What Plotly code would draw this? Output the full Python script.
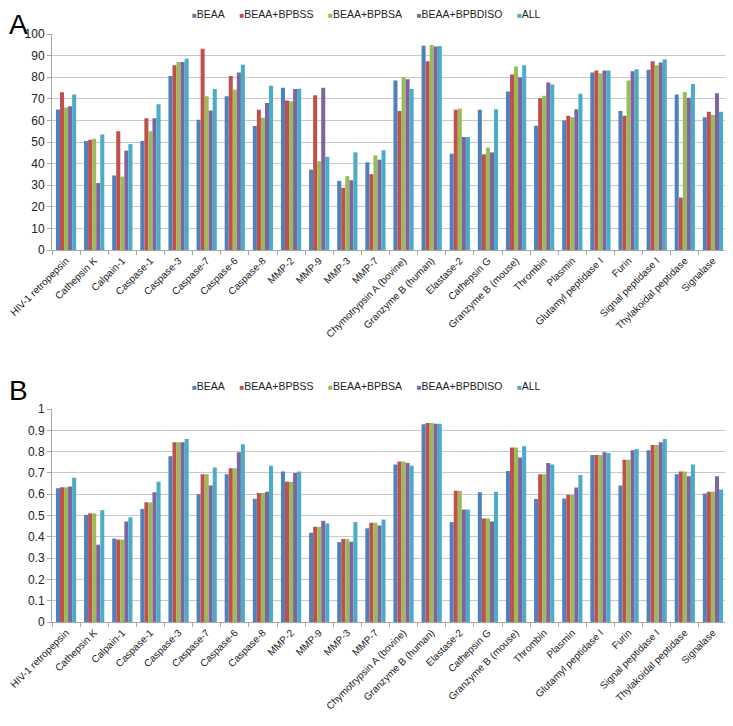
import plotly.graph_objects as go

categories = [
    "HIV-1 retropepsin", "Cathepsin K", "Calpain-1", "Caspase-1", "Caspase-3",
    "Caspase-7", "Caspase-6", "Caspase-8", "MMP-2", "MMP-9", "MMP-3", "MMP-7",
    "Chymotrypsin A (bovine)", "Granzyme B (human)", "Elastase-2", "Cathepsin G",
    "Granzyme B (mouse)", "Thrombin", "Plasmin", "Glutamyl peptidase I", "Furin",
    "Signal peptidase I", "Thylakoidal peptidase", "Signalase",
]
series_names = ["BEAA", "BEAA+BPBSS", "BEAA+BPBSA", "BEAA+BPBDISO", "ALL"]
colors = ["#4F81BD", "#C0504D", "#9BBB59", "#8064A2", "#4BACC6"]

# panel A: accuracy (%)
acc_beaa = [65, 50.5, 34.5, 50.5, 80.5, 60.3, 71.2, 57.4, 75.1, 37.2, 32, 40.6,
            78.5, 94.6, 44.6, 64.9, 73.4, 57.5, 60, 82.2, 64.3, 83.4, 72, 61.5]
acc_bpbss = [73, 51, 55, 61, 85.5, 93.2, 80.6, 64.9, 69.2, 71.7, 28.8, 35.1,
             64.3, 87.4, 64.9, 44.3, 81.2, 70.2, 62.2, 83.1, 62.2, 87.4, 24.3, 64]
acc_bpbsa = [66, 51.5, 34, 55, 87, 71.2, 74.2, 61.2, 68.9, 41.1, 34.2, 43.8,
             80, 94.9, 65.5, 47.4, 84.9, 71.4, 61.5, 81.8, 78.5, 85.5, 73.2, 62.5]
acc_bpbdiso = [66.5, 31, 46, 61, 87, 64.6, 82.2, 68, 74.5, 75.1, 32.3, 41.8,
               79.1, 94.2, 52.3, 45.2, 80, 77.5, 65.2, 83.1, 82.8, 86.8, 70.5, 72.6]
acc_all = [72, 53.5, 49, 67.5, 88.5, 74.5, 85.8, 76, 74.6, 43.1, 45.2, 46.2,
           74.5, 94.5, 52.3, 65.2, 85.5, 76.6, 72.3, 83.1, 83.7, 88.3, 76.9, 64]

# panel B: score (0-1)
sc_beaa = [0.628, 0.503, 0.392, 0.531, 0.778, 0.6, 0.694, 0.578, 0.706, 0.419, 0.375, 0.44,
           0.74, 0.928, 0.469, 0.609, 0.709, 0.578, 0.58, 0.784, 0.641, 0.806, 0.694, 0.603]
sc_bpbss = [0.633, 0.51, 0.387, 0.562, 0.844, 0.694, 0.722, 0.606, 0.659, 0.447, 0.39, 0.466,
            0.753, 0.934, 0.616, 0.486, 0.819, 0.694, 0.597, 0.784, 0.762, 0.831, 0.706, 0.612]
sc_bpbsa = [0.633, 0.51, 0.387, 0.562, 0.844, 0.694, 0.722, 0.606, 0.659, 0.447, 0.39, 0.466,
            0.753, 0.934, 0.616, 0.486, 0.819, 0.694, 0.597, 0.784, 0.762, 0.831, 0.706, 0.612]
sc_bpbdiso = [0.636, 0.363, 0.472, 0.609, 0.844, 0.641, 0.797, 0.612, 0.7, 0.475, 0.377, 0.453,
              0.747, 0.931, 0.528, 0.472, 0.772, 0.747, 0.631, 0.797, 0.806, 0.844, 0.684, 0.684]
sc_all = [0.677, 0.525, 0.492, 0.659, 0.859, 0.725, 0.834, 0.734, 0.706, 0.463, 0.469, 0.481,
          0.734, 0.931, 0.528, 0.612, 0.825, 0.74, 0.69, 0.794, 0.812, 0.859, 0.74, 0.622]

acc_series = [acc_beaa, acc_bpbss, acc_bpbsa, acc_bpbdiso, acc_all]
sc_series = [sc_beaa, sc_bpbss, sc_bpbsa, sc_bpbdiso, sc_all]

fig = go.Figure()
for name, col, vals in zip(series_names, colors, acc_series):
    fig.add_trace(go.Bar(x=categories, y=vals, name=name, marker_color=col,
                         marker_line_width=0, xaxis="x", yaxis="y", showlegend=False))
for name, col, vals in zip(series_names, colors, sc_series):
    fig.add_trace(go.Bar(x=categories, y=vals, name=name, marker_color=col,
                         marker_line_width=0, xaxis="x2", yaxis="y2", showlegend=False))

# the page body adds an 8px margin, so work in (reference px - 8)
W, H = 725.0, 718.0
OFF = 8
FONT = "Liberation Sans, Arial, sans-serif"
xdom = [(52 - OFF) / W, (727 - OFF) / W]
grid = "#C8C8C8"
xcommon = dict(type="category", tickangle=-45, automargin=False,
               tickfont=dict(family=FONT, size=10, color="#222"), showgrid=False,
               showline=True, linecolor="#A6A6A6", ticks="outside", tickson="boundaries",
               ticklen=4, tickcolor="#A6A6A6", domain=xdom)
ycommon = dict(showgrid=True, gridcolor=grid, gridwidth=1, showline=True, linecolor="#A6A6A6",
               ticks="outside", ticklen=4, tickcolor="#A6A6A6", zeroline=False, automargin=False,
               tickfont=dict(family=FONT, size=12, color="#222"))


def py(px):
    return 1 - (px - OFF) / H


# legend rows drawn as text with coloured squares
legend_text = "&nbsp;&nbsp;&nbsp;&nbsp;&nbsp;".join(
    f"<span style='color:{c};font-size:8px'>■</span>{n}" for n, c in zip(series_names, colors)
)

fig.update_layout(
    width=W, height=H,
    margin=dict(l=0, r=0, t=0, b=0),
    paper_bgcolor="white", plot_bgcolor="white",
    barmode="group", bargap=0.28, bargroupgap=0,
    xaxis=dict(anchor="y", **xcommon),
    yaxis=dict(domain=[py(250), py(34)], range=[0, 100], dtick=10, anchor="x", **ycommon),
    xaxis2=dict(anchor="y2", **xcommon),
    yaxis2=dict(domain=[py(622), py(409)], range=[0, 1], dtick=0.1, anchor="x2", **ycommon),
    annotations=[
        dict(text="A", x=0, y=1.0, xref="paper", yref="paper", xanchor="left", yanchor="top",
             showarrow=False, borderpad=0, font=dict(family=FONT, size=28, color="black")),
        dict(text="B", x=0, y=py(374), xref="paper", yref="paper", xanchor="left", yanchor="top",
             showarrow=False, borderpad=0, font=dict(family=FONT, size=28, color="black")),
        dict(text=legend_text, x=(366 - OFF) / W, y=py(14), xref="paper", yref="paper",
             xanchor="center", yanchor="middle", showarrow=False,
             font=dict(family=FONT, size=10.5, color="#222")),
        dict(text=legend_text, x=(366 - OFF) / W, y=py(386), xref="paper", yref="paper",
             xanchor="center", yanchor="middle", showarrow=False,
             font=dict(family=FONT, size=10.5, color="#222")),
    ],
)

fig.write_html("out.html")
